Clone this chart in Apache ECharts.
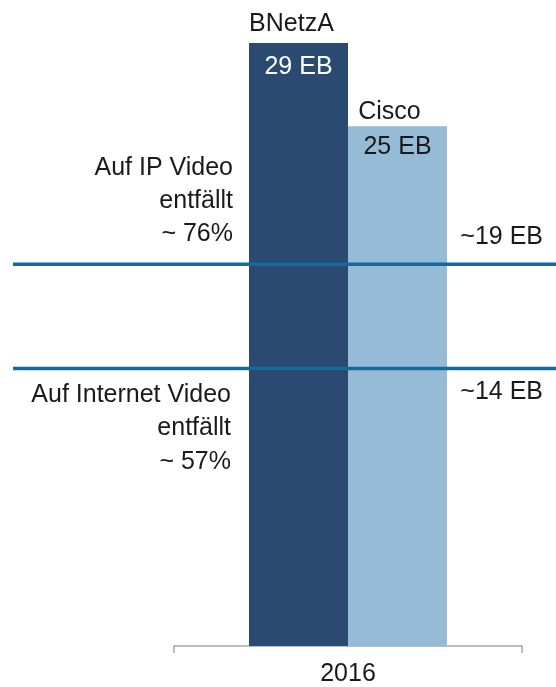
<!DOCTYPE html>
<html>
<head>
<meta charset="utf-8">
<script src="https://cdn.jsdelivr.net/npm/echarts@6/dist/echarts.min.js"></script>
<style>html,body{margin:0;padding:0;background:#fff}#c{width:556px;height:687px}</style>
</head>
<body>
<div id="c"></div>
<script>
const categories = ['2016'];
const seriesNames = ['BNetzA', 'Cisco'];
const values = [29, 25];
const valueLabels = ['29 EB', '25 EB'];
const lineValues = [18.4, 13.4];
const lineLabels = ['~19 EB', '~14 EB'];
const leftNotes = ['Auf IP Video\nentfällt\n~ 76%', 'Auf Internet Video\nentfällt\n~ 57%'];

const FONT = "'Liberation Sans', Arial, sans-serif";
const FS = 25;
const barColors = ['#2b4a72', '#95bbd6'];
const valueColors = ['#ffffff', '#1a1a1a'];
const labelCfg = [
  {top: -40.5, lh: 43, pad: 14},
  {top: -31.5, lh: 35, pad: 16}
];

const chart = echarts.init(document.getElementById('c'));
const barSeries = seriesNames.map((name, i) => ({
  name: name,
  type: 'bar',
  xAxisIndex: 0, yAxisIndex: 0,
  barWidth: 99,
  barGap: '0%',
  z: 2,
  itemStyle: {color: barColors[i]},
  data: categories.map(() => ({
    value: values[i],
    label: {
      show: true,
      position: ['50%', labelCfg[i].top],
      align: 'center',
      verticalAlign: 'top',
      formatter: '{n|' + name + '}\n{v|' + valueLabels[i] + '}',
      rich: {
        n: {color: '#1a1a1a', fontSize: FS, fontFamily: FONT, lineHeight: labelCfg[i].lh, padding: [0, labelCfg[i].pad, 0, 0]},
        v: {color: valueColors[i], fontSize: FS, fontFamily: FONT, lineHeight: labelCfg[i].lh}
      }
    }
  }))
}));

const lineSeries = lineValues.map((v, i) => ({
  name: lineLabels[i],
  type: 'line',
  xAxisIndex: 1, yAxisIndex: 1,
  symbol: 'none',
  z: 5,
  lineStyle: {color: '#16699a', width: 3.5},
  data: [[0, v], [1, v]]
}));

const txt = (text, x, y, lh, va) => ({
  type: 'text', x: x, y: y, z: 10,
  style: {text: text, fill: '#1a1a1a', font: FS + 'px ' + FONT, lineHeight: lh, align: 'right', verticalAlign: va}
});

chart.setOption({
  animation: false,
  grid: [
    {left: 174, right: 34, top: 43, bottom: 39},
    {left: 13, right: 0, top: 43, bottom: 39}
  ],
  xAxis: [
    {
      type: 'category', gridIndex: 0, data: categories,
      axisLine: {lineStyle: {color: '#a6a6a6', width: 1.5}},
      axisTick: {show: true, length: 7, lineStyle: {color: '#a6a6a6', width: 1.5}},
      axisLabel: {color: '#1a1a1a', fontSize: FS, fontFamily: FONT, margin: 16}
    },
    {type: 'value', gridIndex: 1, min: 0, max: 1, show: false}
  ],
  yAxis: [
    {type: 'value', gridIndex: 0, min: 0, max: 29, show: false},
    {type: 'value', gridIndex: 1, min: 0, max: 29, show: false}
  ],
  series: barSeries.concat(lineSeries),
  graphic: [
    txt(leftNotes[0], 233, 151.5, 33, 'top'),
    txt(leftNotes[1], 231, 378, 33.5, 'top'),
    txt(lineLabels[0], 543, 237, 28, 'middle'),
    txt(lineLabels[1], 543, 392, 28, 'middle')
  ]
});
</script>
</body>
</html>
